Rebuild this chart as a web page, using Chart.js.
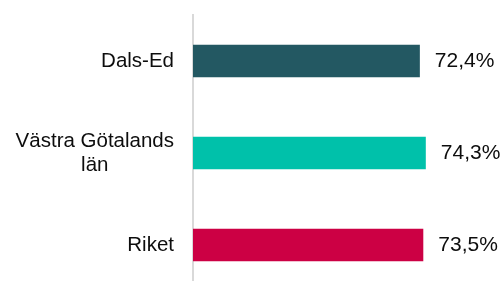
<!DOCTYPE html>
<html>
<head>
<meta charset="utf-8">
<script src="https://cdn.jsdelivr.net/npm/chart.js@4"></script>
<style>
    html, body { margin: 0; padding: 0; overflow: hidden; background: #fff; }
    #wrap { width: 503px; height: 291px; }
</style>
</head>
<body>
<div id="wrap"><canvas id="chart" width="503" height="291"></canvas></div>
<script>
// data
var categories = ['Dals-Ed', ['Västra Götalands', 'län'], 'Riket'];
var values = [72.4, 74.3, 73.5];
var barColors = ['#235862', '#00c1aa', '#cc0044'];

function fmt(v) {
    return v.toFixed(1).replace('.', ',') + '%';
}

var CAT_FONT = '20.5px "Liberation Sans", Arial, sans-serif';
var VAL_FONT = '21px "Liberation Sans", Arial, sans-serif';

// labels left of the axis, lines centred within a right aligned block (like Excel)
var catLabels = {
    id: 'catLabels',
    afterDraw: function (chart) {
        var ctx = chart.ctx;
        var y = chart.scales.y;
        ctx.save();
        ctx.font = CAT_FONT;
        ctx.fillStyle = '#0d0d0d';
        ctx.textAlign = 'center';
        ctx.textBaseline = 'middle';
        var right = 174;
        var lh = 24;
        categories.forEach(function (c, i) {
            var lines = Array.isArray(c) ? c : [c];
            var w = 0;
            lines.forEach(function (l) { w = Math.max(w, ctx.measureText(l).width); });
            var cx = right - w / 2;
            var cy = y.getPixelForValue(i) - (lines.length - 1) * lh / 2;
            lines.forEach(function (l, j) {
                ctx.fillText(l, cx, cy + j * lh);
            });
        });
        ctx.restore();
    }
};

// value labels right of the bars
var valueLabels = {
    id: 'valueLabels',
    afterDatasetsDraw: function (chart) {
        var ctx = chart.ctx;
        var meta = chart.getDatasetMeta(0);
        ctx.save();
        ctx.font = VAL_FONT;
        ctx.fillStyle = '#0d0d0d';
        ctx.textAlign = 'left';
        ctx.textBaseline = 'middle';
        meta.data.forEach(function (bar, i) {
            ctx.fillText(fmt(values[i]), bar.x + 15, bar.y);
        });
        ctx.restore();
    }
};

var chart = new Chart(document.getElementById('chart'), {
    type: 'bar',
    data: {
        labels: categories,
        datasets: [{
            data: values,
            backgroundColor: barColors,
            borderWidth: 0,
            barPercentage: 1,
            categoryPercentage: 0.355
        }]
    },
    options: {
        indexAxis: 'y',
        responsive: false,
        animation: false,
        layout: { padding: { top: 15, right: 28, bottom: 0, left: 0 } },
        plugins: {
            legend: { display: false },
            tooltip: { enabled: false }
        },
        scales: {
            x: {
                display: false,
                min: 0,
                max: 90
            },
            y: {
                ticks: { display: false },
                grid: { display: false },
                border: { display: true, color: '#d9d9d9', width: 2 },
                afterFit: function (s) { s.width = 193; }
            }
        }
    },
    plugins: [catLabels, valueLabels]
});
</script>
</body>
</html>
